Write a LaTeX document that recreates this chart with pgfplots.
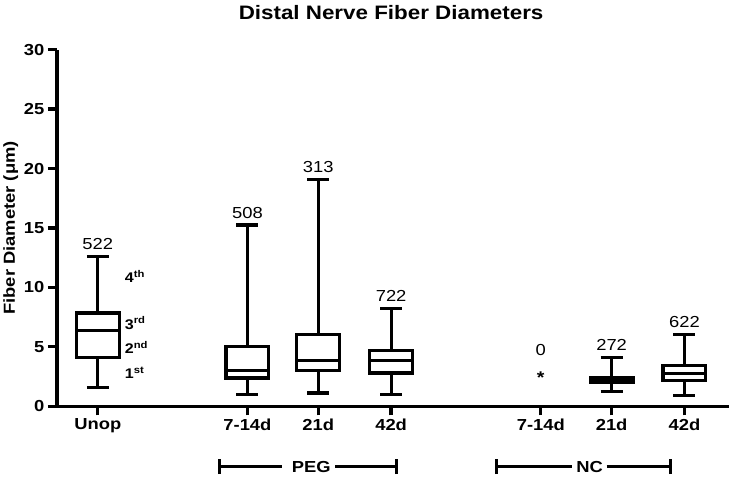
\documentclass[border=0pt]{standalone}
\usepackage{pgfplots}
\pgfplotsset{compat=1.18}
\usepgfplotslibrary{statistics}
\usepackage{fontspec}
\setmainfont{Liberation Sans}[FakeStretch=1.15]
\begin{document}
\begin{tikzpicture}
\begin{axis}[
    width=674pt, height=357.4pt, scale only axis,
    xmin=57, xmax=731, ymin=0, ymax=30,
    axis x line*=bottom, axis y line*=left,
    axis line style={line width=3.3pt, -},
    xtick={98,248,319,392,542,613,686},
    xticklabels={Unop,7-14d,21d,42d,7-14d,21d,42d},
    ytick={0,5,...,30},
    tick align=outside, major tick length=9pt,
    tick style={line width=3.3pt, black},
    ticklabel style={font=\bfseries\fontsize{16}{16}\selectfont},
    /pgf/number format/assume math mode=true,
    clip=false,
    boxplot/draw direction=y,
    every axis plot/.append style={draw=black, line width=3.1pt, solid},
]
% bounding box like the reference image
\path (axis cs:0,34.18) (axis cs:731,-6.24);

% Unop
\addplot[boxplot prepared={draw position=98, lower whisker=1.55, lower quartile=4.07,
    median=6.36, upper quartile=7.85, upper whisker=12.6, box extend=43, whisker extend=22}]
    coordinates {};
% PEG
\addplot[boxplot prepared={draw position=248, lower whisker=0.96, lower quartile=2.38,
    median=3.03, upper quartile=5.04, upper whisker=15.25, box extend=43, whisker extend=22}]
    coordinates {};
\addplot[boxplot prepared={draw position=319, lower whisker=1.12, lower quartile=3.03,
    median=3.87, upper quartile=6.03, upper whisker=19.05, box extend=43, whisker extend=22}]
    coordinates {};
\addplot[boxplot prepared={draw position=392, lower whisker=0.96, lower quartile=2.8,
    median=3.87, upper quartile=4.71, upper whisker=8.2, box extend=43, whisker extend=22}]
    coordinates {};
% NC
\addplot[boxplot prepared={draw position=613, lower whisker=1.21, lower quartile=1.97,
    median=2.19, upper quartile=2.44, upper whisker=4.07, box extend=43, whisker extend=22}]
    coordinates {};
\addplot[boxplot prepared={draw position=686, lower whisker=0.93, lower quartile=2.16,
    median=2.75, upper quartile=3.45, upper whisker=6.03, box extend=43, whisker extend=22}]
    coordinates {};

% counts
\begin{scope}[every node/.style={anchor=base, font=\fontsize{16}{16}\selectfont, yshift=7pt}]
\node at (axis cs:98,12.6) {522};
\node at (axis cs:248,15.25) {508};
\node at (axis cs:319,19.05) {313};
\node at (axis cs:392,8.2) {722};
\node at (axis cs:542,3.7) {0};
\node at (axis cs:613,4.07) {272};
\node at (axis cs:686,6.03) {622};
\end{scope}
\node[anchor=base, font=\bfseries\fontsize{17}{17}\selectfont] at (axis cs:542,1.92) {*};

% quartile labels
\begin{scope}[every node/.style={anchor=base west, inner sep=0pt, font=\bfseries\fontsize{14}{14}\selectfont}]
\node at (axis cs:125,10.42) {4\textsuperscript{th}};
\node at (axis cs:125,6.5) {3\textsuperscript{rd}};
\node at (axis cs:125,4.40) {2\textsuperscript{nd}};
\node at (axis cs:125,2.30) {1\textsuperscript{st}};
\end{scope}

% title and y label
\node[anchor=base, font=\bfseries\fontsize{19.5}{19.5}\selectfont] at (axis cs:392,32.5) {Distal Nerve Fiber Diameters};
\node[anchor=base, rotate=90, font=\bfseries\fontsize{16}{16}\selectfont] at (axis cs:15,15) {Fiber Diameter (μm)};

% group brackets
\begin{scope}[line width=3.1pt]
\draw (axis cs:220,-5.08) -- (axis cs:283,-5.08);
\draw (axis cs:336,-5.08) -- (axis cs:397,-5.08);
\draw ([yshift=-7.5pt]axis cs:220,-5.08) -- ([yshift=7.5pt]axis cs:220,-5.08);
\draw ([yshift=-7.5pt]axis cs:397,-5.08) -- ([yshift=7.5pt]axis cs:397,-5.08);
\draw (axis cs:498,-5.08) -- (axis cs:573,-5.08);
\draw (axis cs:608,-5.08) -- (axis cs:672,-5.08);
\draw ([yshift=-7.5pt]axis cs:498,-5.08) -- ([yshift=7.5pt]axis cs:498,-5.08);
\draw ([yshift=-7.5pt]axis cs:672,-5.08) -- ([yshift=7.5pt]axis cs:672,-5.08);
\end{scope}
\node[font=\bfseries\fontsize{16}{16}\selectfont] at (axis cs:312,-5.08) {PEG};
\node[font=\bfseries\fontsize{16}{16}\selectfont] at (axis cs:591,-5.08) {NC};
\end{axis}
\end{tikzpicture}
\end{document}
